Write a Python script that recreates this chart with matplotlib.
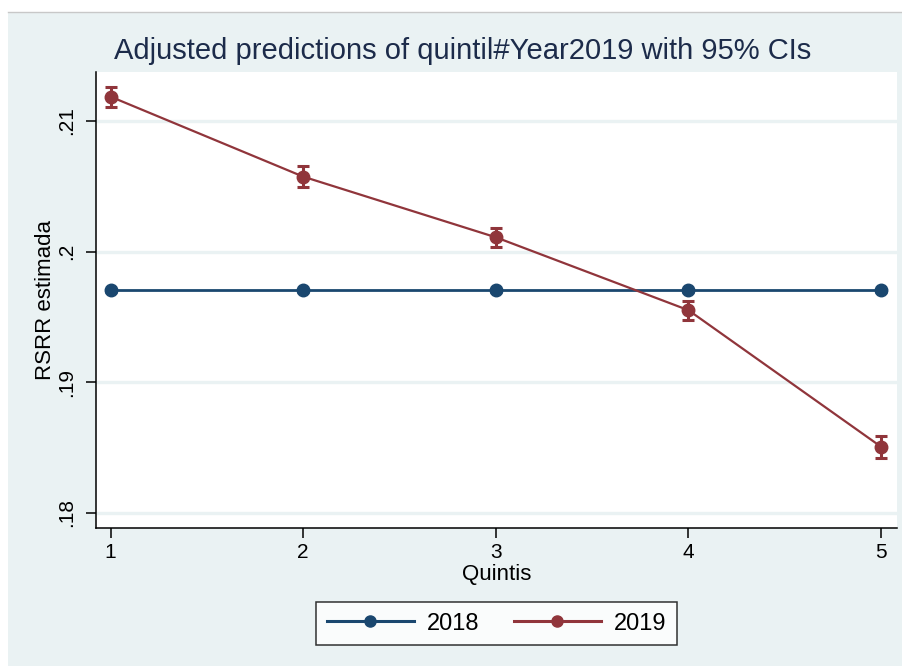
import matplotlib
matplotlib.use("Agg")
import matplotlib.pyplot as plt
from matplotlib.patches import Rectangle
from matplotlib.lines import Line2D

plt.rcParams["font.family"] = ["Liberation Sans", "DejaVu Sans"]

# Adjusted predictions by quintile and year
quintiles = [1, 2, 3, 4, 5]
pred_2018 = [0.19705, 0.19705, 0.19705, 0.19705, 0.19705]
ci_2018 = [0.0001, 0.0001, 0.0001, 0.0001, 0.0001]
pred_2019 = [0.21186, 0.20574, 0.20110, 0.19552, 0.18507]
ci_2019 = [0.00078, 0.00079, 0.00071, 0.00073, 0.00084]
series_labels = ["2018", "2019"]
ytick_vals = [0.18, 0.19, 0.20, 0.21]
ytick_labels = [".18", ".19", ".2", ".21"]

BG = "#EAF2F3"
NAVY = "#1A476F"
MAROON = "#90353B"

W, H = 903, 666
fig = plt.figure(figsize=(W / 100, H / 100), dpi=100)
fig.patch.set_facecolor("white")

# graph region background with a thin top border
fig.patches.append(Rectangle((8 / W, 0), 1 - 8 / W, 654 / H, transform=fig.transFigure,
                             facecolor=BG, edgecolor="none", zorder=-10))
fig.lines.append(Line2D([8 / W, 1], [654 / H, 654 / H], transform=fig.transFigure,
                        color="#C8C8C8", lw=1.0, zorder=-9))

ax = fig.add_axes([96 / W, 138 / H, 801 / W, 456 / H])
ax.set_facecolor("white")

for vals, err, color, lw, lab in [(pred_2018, ci_2018, NAVY, 2.0, series_labels[0]),
                                  (pred_2019, ci_2019, MAROON, 1.6, series_labels[1])]:
    ax.errorbar(quintiles, vals, yerr=err, color=color, lw=lw, marker="o",
                markersize=9.0, capsize=4.5, capthick=2.2, elinewidth=2.2,
                label=lab, zorder=3)

ax.set_xlim(0.924, 5.083)
ax.set_ylim(0.17885, 0.21375)
ax.set_xticks(quintiles)
ax.set_xticklabels([str(q) for q in quintiles])
ax.set_yticks(ytick_vals)
ax.set_yticklabels(ytick_labels, rotation=90, va="center")

ax.grid(axis="y", color=BG, lw=2.4, zorder=0)
ax.set_axisbelow(True)

for s in ["top", "right"]:
    ax.spines[s].set_visible(False)
for s in ["left", "bottom"]:
    ax.spines[s].set_linewidth(1.1)
    ax.spines[s].set_color("black")

ax.tick_params(axis="both", length=7.5, width=1.1, labelsize=15, colors="black")
ax.tick_params(axis="y", pad=7)
ax.tick_params(axis="x", pad=3)

ax.set_xlabel("Quintis", fontsize=16)
ax.xaxis.set_label_coords(0.5, -0.103)
ax.xaxis.label.set_va("center")
ax.set_ylabel("RSRR estimada", fontsize=16)
ax.yaxis.set_label_coords(-0.063, 0.5)
ax.yaxis.label.set_va("center")

fig.text(462.5 / W, (H - 59) / H, "Adjusted predictions of quintil#Year2019 with 95% CIs",
         ha="center", va="baseline", fontsize=21, color="#1C2B4A")

handles = [Line2D([], [], color=NAVY, lw=2.2, marker="o", markersize=8),
           Line2D([], [], color=MAROON, lw=2.2, marker="o", markersize=8)]
leg = fig.legend(handles, series_labels, loc="center", bbox_to_anchor=(496.5 / W, 42.5 / H),
                 ncol=2, fontsize=17, frameon=True, fancybox=False, handlelength=3.7,
                 columnspacing=1.45, handletextpad=0.55, borderpad=0.45,
                 borderaxespad=0.0)
leg.get_frame().set_edgecolor("black")
leg.get_frame().set_linewidth(1.1)
leg.get_frame().set_facecolor("white")

fig.savefig("out.png", dpi=100, facecolor=fig.get_facecolor())
